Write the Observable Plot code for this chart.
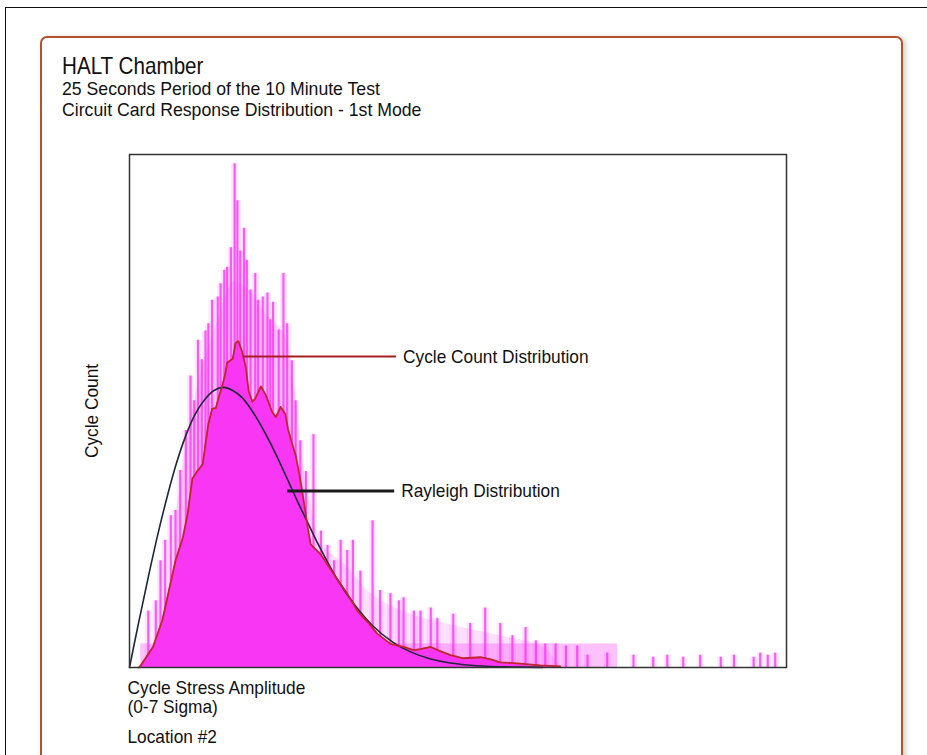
<!DOCTYPE html>
<html>
<head>
<meta charset="utf-8">
<script src="https://cdn.jsdelivr.net/npm/d3@7"></script>
<script src="https://cdn.jsdelivr.net/npm/@observablehq/plot@0.6"></script>
<style>
  html, body { margin: 0; padding: 0; background: #fff; overflow: hidden; }
  body { width: 927px; height: 755px; position: relative;
         font-family: "Liberation Sans", Arial, sans-serif; }
  .page-border { position: absolute; left: 5px; top: 7px; width: 940px; height: 760px;
                 border-left: 1.5px solid #111; border-top: 1.5px solid #111; }
  .card { position: absolute; left: 40px; top: 36px; width: 859px; height: 760px;
          border: 2.5px solid #b4532b; border-radius: 7px;
          box-shadow: 3px 1px 5px rgba(0,0,0,0.18); background: #fff; }
  .txt { position: absolute; white-space: nowrap; color: #111; transform-origin: 0 0; }
  #chart { position: absolute; left: 0; top: 0; }
</style>
</head>
<body>
<div class="page-border"></div>
<div class="card"></div>
<div class="txt" style="left:62px; top:53.7px; font-size:24px; line-height:24px; transform:scaleX(0.86);">HALT Chamber</div>
<div class="txt" style="left:62px; top:79.2px; font-size:19px; line-height:20.5px; transform:scaleX(0.93);">25 Seconds Period of the 10 Minute Test<br>Circuit Card Response Distribution - 1st Mode</div>
<div id="chart"></div>
<script>
// Measured cycle-count distribution (stress amplitude in sigma, cycle count)
const cycleCountCurve = [
  [0.10,0],[0.12,2],[0.25,20],[0.35,46],[0.42,75],[0.49,104],[0.57,127],[0.62,150],
  [0.67,184],[0.72,191],[0.78,198],[0.81,218],[0.84,237],[0.88,252],[0.92,253],[0.95,263],
  [0.99,275],[1.02,286],[1.04,297],[1.10,301],[1.13,316],[1.16,318],[1.20,308],[1.24,292],
  [1.27,269],[1.31,259],[1.34,262],[1.40,274],[1.45,266],[1.52,249],[1.56,244],[1.61,254],
  [1.66,247],[1.69,232],[1.74,216],[1.77,207],[1.80,193],[1.84,172],[1.90,136],[1.93,120],
  [2.04,110],[2.12,99],[2.22,85],[2.32,72],[2.43,55],[2.54,44],[2.64,33],[2.78,23],
  [2.92,20],[3.03,17],[3.10,18],[3.21,20],[3.31,16],[3.42,12],[3.56,9],[3.74,10],
  [3.85,8],[3.95,5],[4.13,4],[4.38,2],[4.59,1]
];

// Fitted Rayleigh distribution, read at the same scale
const rayleighCurve = [
  [0,0],[0.1,45],[0.2,88],[0.3,129],[0.4,166],[0.5,199],[0.6,226],[0.7,247],[0.8,261],
  [0.9,270],[1.0,273],[1.1,270],[1.2,263],[1.3,251],[1.4,236],[1.5,219],[1.6,200],
  [1.7,180],[1.8,160],[1.9,141],[2.0,122],[2.2,88],[2.4,61],[2.6,40],[2.8,25],[3.0,15],
  [3.2,8.6],[3.4,4.7],[3.6,2.5],[3.8,1.2],[4.0,0.6],[4.4,0.1]
];

// Individual histogram bins that rise above the smoothed count
const histogramBins = [
  [0.20,55],[0.28,65],[0.33,104],[0.38,124],[0.44,148],[0.49,153],[0.54,192],
  [0.60,231],[0.65,284],[0.69,260],[0.73,319],[0.77,300],[0.81,328],[0.84,335],[0.88,358],
  [0.94,361],[0.97,374],[1.01,387],[1.04,390],[1.08,409],[1.12,491],[1.15,455],[1.18,406],
  [1.22,428],[1.25,397],[1.29,368],[1.34,384],[1.37,358],[1.42,361],[1.47,365],[1.50,339],
  [1.53,356],[1.59,329],[1.64,384],[1.68,335],[1.73,299],[1.77,260],[1.82,221],[1.88,191],
  [1.96,227],[2.04,133],[2.11,119],[2.18,104],[2.25,124],[2.32,114],[2.38,124],[2.46,94],
  [2.59,143],[2.67,75],[2.78,72],[2.87,65],[2.92,68],[3.03,55],[3.10,55],[3.21,58],
  [3.28,48],[3.45,52],[3.63,43],[3.79,58],[3.95,43],[4.08,31],[4.22,39],[4.33,26],
  [4.43,23],[4.54,23],[4.65,21],[4.77,21],[4.88,12],[5.09,14],[5.37,12],[5.58,10],
  [5.73,12],[5.90,10],[6.08,12],[6.30,10],[6.44,12],[6.65,10],[6.72,14],[6.80,12],[6.88,14]
];

// Typical upper spread of neighbouring bins (the pale band among the peaks)
const binSpread = [
  [0.50,150],[0.65,240],[0.80,300],[0.95,340],[1.10,375],[1.25,370],[1.45,345],[1.65,325],
  [1.75,280],[1.85,200],[1.95,150],[2.05,120],[2.30,100],[2.60,70],[3.00,52],[3.50,40],
  [4.00,30],[4.40,20],[4.60,0]
];

// Low-level floor of counts across the amplitude range
const countFloor = [{from: 0.12, to: 5.2, count: 23}];

// Callout labels: line start/end along amplitude, count level, text
const callouts = [
  {label: "Cycle Count Distribution", from: 1.21, to: 2.84, count: 303, color: "#a61e24", width: 2},
  {label: "Rayleigh Distribution", from: 1.68, to: 2.82, count: 172, color: "#1a1a1a", width: 3}
];

// Caption lines under the plot frame
const xCaption = ["Cycle Stress Amplitude", "(0-7 Sigma)", "Location #2"];

const font = '"Liberation Sans", Arial, sans-serif';
const magenta = "#f936f4";
const captionStyle = {frameAnchor: "bottom-left", dx: -2, textAnchor: "start", lineAnchor: "middle", fontSize: 19, fill: "#111", fontFamily: font};

const chart = Plot.plot({
  width: 927,
  height: 755,
  marginLeft: 129,
  marginRight: 141,
  marginTop: 154,
  marginBottom: 88,
  style: {background: "transparent", fontFamily: font},
  x: {domain: [0, 7], axis: null},
  y: {domain: [0, 500], axis: null},
  marks: [
    Plot.rectY(countFloor, {x1: "from", x2: "to", y1: 0, y2: "count", fill: magenta, fillOpacity: 0.3}),
    Plot.areaY(binSpread, {x: d => d[0], y: d => d[1], curve: "catmull-rom", fill: magenta, fillOpacity: 0.16}),
    Plot.ruleX(histogramBins, {x: d => d[0], y1: 0, y2: d => d[1], stroke: magenta, strokeWidth: 7, strokeOpacity: 0.12}),
    Plot.ruleX(histogramBins, {x: d => d[0], y1: 0, y2: d => d[1], stroke: magenta, strokeWidth: 2.2, strokeOpacity: 0.8}),
    Plot.areaY(cycleCountCurve, {x: d => d[0], y: d => d[1], fill: magenta}),
    Plot.line(rayleighCurve, {x: d => d[0], y: d => d[1], curve: "catmull-rom", stroke: "#1e2838", strokeWidth: 1.6}),
    Plot.line(cycleCountCurve, {x: d => d[0], y: d => d[1], stroke: "#c0262c", strokeWidth: 1.8}),
    Plot.link(callouts, {x1: "from", x2: "to", y1: "count", y2: "count", stroke: d => d.color, strokeWidth: d => d.width}),
    Plot.text(callouts, {x: "to", y: "count", text: "label", dx: 7, textAnchor: "start", fontSize: 19, fill: "#111", fontFamily: font}),
    Plot.frame({stroke: "#333", strokeWidth: 1.5}),
    Plot.text(["Cycle Count"], {frameAnchor: "left", dx: -38, rotate: -90, textAnchor: "middle", lineAnchor: "middle", fontSize: 19, fill: "#111", fontFamily: font}),
    Plot.text([xCaption[0]], {...captionStyle, dy: 20}),
    Plot.text([xCaption[1]], {...captionStyle, dy: 39}),
    Plot.text([xCaption[2]], {...captionStyle, dy: 69})
  ]
});
document.getElementById("chart").appendChild(chart);

// Condense the SVG labels horizontally, like a narrow typeface
d3.select(chart).selectAll("text").each(function () {
  const w = this.getComputedTextLength();
  if (w > 0) {
    this.setAttribute("textLength", (w * 0.91).toFixed(1));
    this.setAttribute("lengthAdjust", "spacingAndGlyphs");
  }
});
</script>
</body>
</html>
